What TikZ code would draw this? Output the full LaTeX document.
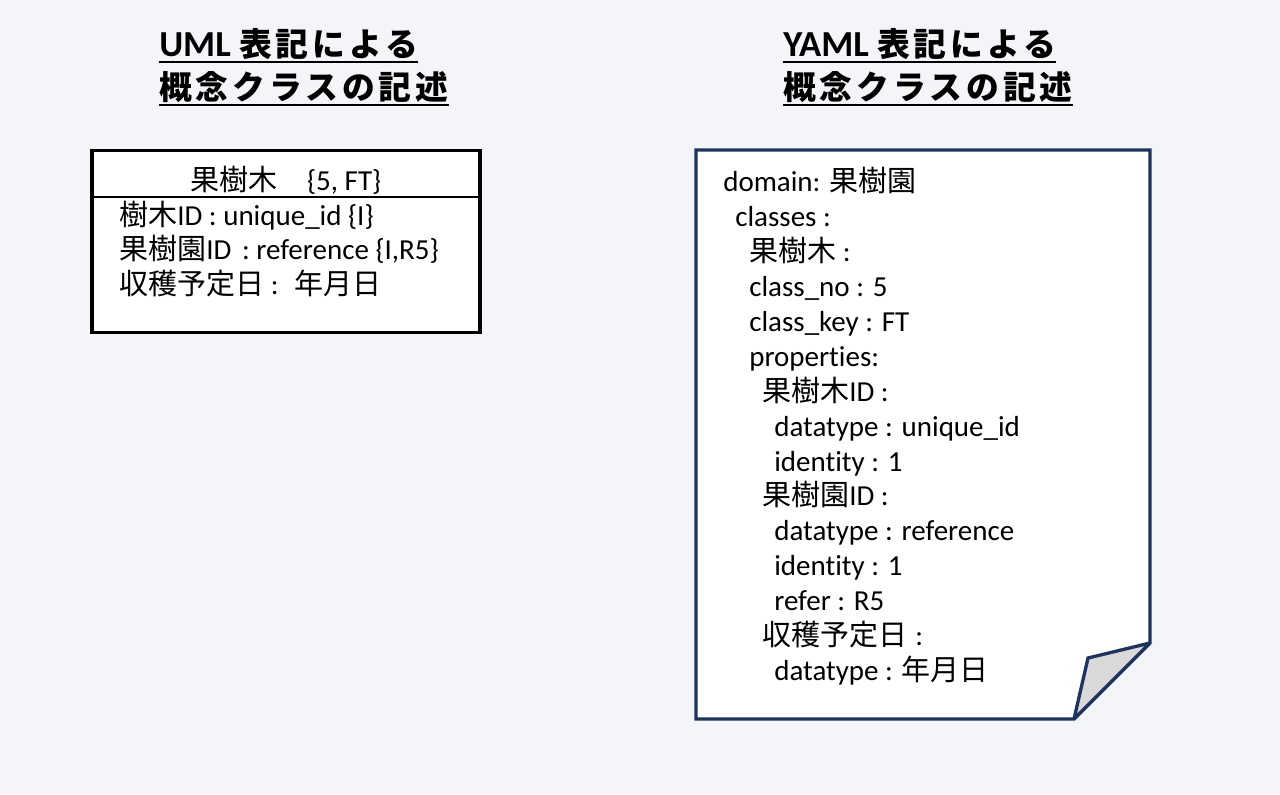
\documentclass[tikz,border=0pt]{standalone}
\usepackage{fontspec}
\setmainfont{Carlito}[Ligatures={NoCommon}]
\newfontfamily\cjk{Noto Sans CJK JP}
\newfontfamily\cjkt{Noto Sans CJK JP}[LetterSpace=12]
\newcommand\JP[1]{{\cjk #1}}
\newcommand\JT[1]{{\cjkt\fontsize{24.6pt}{28pt}\selectfont\bfseries #1}}
\newcommand\bodyfont{\fontsize{21.75pt}{26pt}\selectfont}
\newcommand\ttlfont{\fontsize{27.5pt}{32pt}\selectfont\bfseries}
\definecolor{bgc}{RGB}{243,245,249}
\definecolor{navy}{RGB}{31,52,92}
\definecolor{foldgray}{RGB}{217,217,217}
\begin{document}
\begin{tikzpicture}[x=0.75pt,y=-0.75pt,
  txt/.style={anchor=base west, inner sep=0pt, font=\bodyfont},
  ttl/.style={anchor=base west, inner sep=0pt, font=\ttlfont},
  uline/.style={line width=1.5pt, black},
  docline/.style={draw=navy, line width=2.5pt, line join=miter, miter limit=3}]
\fill[bgc] (0,0) rectangle (1280,794);
\useasboundingbox (0,0) rectangle (1280,794);

% titles
\node[ttl] (t1) at (159,56) {UML \JT{表記による}};
\node[ttl] (t2) at (159,99) {\JT{概念クラスの記述}};
\node[ttl] (t3) at (783,56) {YAML \JT{表記による}};
\node[ttl] (t4) at (783,99) {\JT{概念クラスの記述}};
\foreach \t in {t1,t2,t3,t4}
  \draw[uline] ([yshift=-4.2pt]\t.base west) -- ([yshift=-4.2pt]\t.base east);

% UML class box
\node (uml) [draw=black, line width=2.3pt, fill=white, minimum width=291pt, minimum height=136.5pt, inner sep=0pt] at (286,241.25) {};
\coordinate (sep) at (286,197);
\draw[line width=1.4pt] (uml.west |- sep) -- (uml.east |- sep);
\node[anchor=base, inner sep=0pt, font=\bodyfont] (uh) at (286,190) {\JP{果樹木}\hspace{22pt}\{5, FT\}};
\node[txt] (u1) at (119,225) {\JP{樹木}ID : unique\_id \{I\}};
\node[txt] (u2) at (119,259.5) {\JP{果樹園}ID\hspace{8pt}: reference \{I,R5\}};
\node[txt] (u3) at (119,294) {\JP{収穫予定日} :\hspace{12pt}\JP{年月日}};

% YAML document
\draw[docline, fill=white] (696,150) -- (1150,150) -- (1150,643) -- (1074,719) -- (696,719) -- cycle;
\draw[docline, fill=foldgray] (1150,643) -- (1088,658) -- (1074,719) -- cycle;

\node[txt] (y1)  at (723,191) {domain: \JP{果樹園}};
\node[txt] (y2)  at (735,226) {classes :};
\node[txt] (y3)  at (749,261) {\JP{果樹木} :};
\node[txt] (y4)  at (749,296) {class\_no : 5};
\node[txt] (y5)  at (749,331) {class\_key : FT};
\node[txt] (y6)  at (749,366) {properties:};
\node[txt] (y7)  at (762,401) {\JP{果樹木}ID :};
\node[txt] (y8)  at (774,436) {datatype : unique\_id};
\node[txt] (y9)  at (774,471) {identity : 1};
\node[txt] (y10) at (762,505) {\JP{果樹園}ID :};
\node[txt] (y11) at (774,540) {datatype : reference};
\node[txt] (y12) at (774,575) {identity : 1};
\node[txt] (y13) at (774,610) {refer : R5};
\node[txt] (y14) at (762,645) {\JP{収穫予定日}\hspace{6pt}:};
\node[txt] (y15) at (774,680) {datatype : \JP{年月日}};
\end{tikzpicture}
\end{document}
